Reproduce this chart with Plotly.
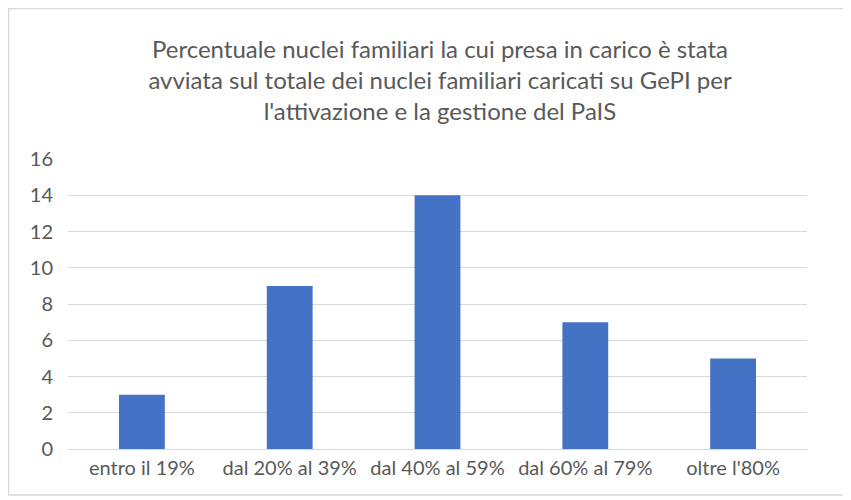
import plotly.graph_objects as go

categories = ["entro il 19%", "dal 20% al 39%", "dal 40% al 59%", "dal 60% al 79%", "oltre l'80%"]
values = [3, 9, 14, 7, 5]
y_ticks = [0, 2, 4, 6, 8, 10, 12, 14, 16]
title_lines = ["Percentuale nuclei familiari la cui presa in carico è stata",
               "avviata sul totale dei nuclei familiari caricati su GePI per",
               "l'attivazione e la gestione del PaIS"]

# page has an 8px body margin, so the figure is sized to fit the window
W, H = 843, 492
ML, MR, MT, MB = 60, 44, 151, 51
pw, ph = W - ML - MR, H - MT - MB

fig = go.Figure(go.Bar(x=categories, y=values, marker=dict(color="#4472C4", line=dict(width=0)),
                       width=0.31))

# outer chart border
bx0, bx1, by0, by1 = 0.5, 837, 0.5, 487
fig.add_shape(type="rect", xref="paper", yref="paper",
              x0=(bx0 - ML) / pw, x1=(bx1 - ML) / pw,
              y0=(H - MB - by1) / ph, y1=(H - MB - by0) / ph,
              line=dict(color="#D9D9D9", width=1.5), fillcolor="rgba(0,0,0,0)", layer="below")

fig.update_layout(
    width=W, height=H,
    margin=dict(l=ML, r=MR, t=MT, b=MB),
    paper_bgcolor="white", plot_bgcolor="white",
    font=dict(family="Lato, Open Sans, sans-serif", color="#595959"),
    title=dict(text="<br>".join(title_lines), x=432 / W, xanchor="center",
               y=1 - 50 / H, yanchor="top", yref="container",
               font=dict(size=24, color="#595959")),
    showlegend=False,
    xaxis=dict(showgrid=False, showline=False, ticks="", ticklabelstandoff=5,
               tickfont=dict(size=20, color="#595959")),
    yaxis=dict(range=[0, 16], tickvals=y_ticks, showgrid=True, gridcolor="#D9D9D9", gridwidth=1,
               zeroline=True, zerolinecolor="#D9D9D9", zerolinewidth=1,
               showline=False, ticks="", ticklabelstandoff=14,
               tickfont=dict(size=20, color="#595959")),
)

fig.write_html("out.html")
